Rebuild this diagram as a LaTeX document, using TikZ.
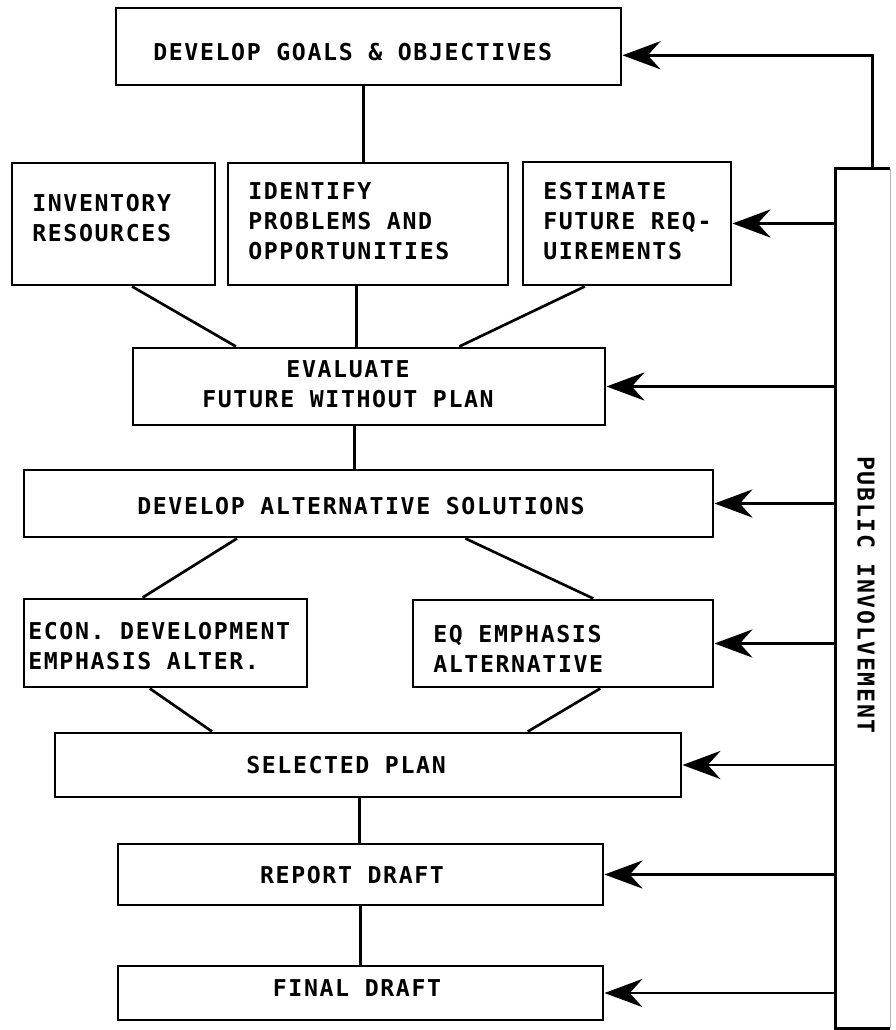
\documentclass[tikz,border=0pt]{standalone}
\usepackage{fontspec}
\newfontfamily\plotfont{DejaVu Sans Mono}[LetterSpace=7]
\usetikzlibrary{arrows.meta,positioning,calc,fit}

\begin{document}
\begin{tikzpicture}[x=0.025cm,y=-0.025cm,
  every node/.style={font=\plotfont\bfseries\fontsize{16.5}{21.3}\selectfont},
  stage/.style={draw,line width=2.1pt,inner sep=0pt},
  lbl/.style={inner sep=0pt,align=left,anchor=north west},
  link/.style={line width=1.9pt},
  feed/.style={line width=1.9pt,-{Stealth[length=27pt,width=20pt,inset=9pt]}}
]
\fill[white] (0,0) rectangle (895,1030);
\useasboundingbox (0,0) rectangle (895,1030);

% planning stages
\node[stage,fit={(116,8) (621,85)}] (goals) {};
\node[stage,fit={(12,163) (215,285)}] (inventory) {};
\node[stage,fit={(228,163) (508,285)}] (identify) {};
\node[stage,fit={(523,162) (731,285)}] (estimate) {};
\node[stage,fit={(133,348) (605,425)}] (evaluate) {};
\node[stage,fit={(24,470) (713,537)}] (alternatives) {};
\node[stage,fit={(24,599) (307,687)}] (econ) {};
\node[stage,fit={(413,600) (713,687)}] (eq) {};
\node[stage,fit={(55,733) (681,797)}] (selected) {};
\node[stage,fit={(118,844) (603,905)}] (report) {};
\node[stage,fit={(118,966) (603,1020)}] (final) {};
\node[inner sep=0pt,fit={(836,169) (890,1028)}] (public) {};

% texts
\node[lbl] (goalstext) at (153,43) {DEVELOP GOALS \& OBJECTIVES};
\node[lbl] (inventorytext) at (32,194) {INVENTORY\\RESOURCES};
\node[lbl] (identifytext) at (248,182) {IDENTIFY\\PROBLEMS AND\\OPPORTUNITIES};
\node[lbl] (estimatetext) at (543,182) {ESTIMATE\\FUTURE REQ-\\UIREMENTS};
\node[lbl,anchor=north,align=center] (evaluatetext) at (348,360)
  {EVALUATE\\FUTURE WITHOUT PLAN};
\node[lbl] (alternativestext) at (137,497) {DEVELOP ALTERNATIVE SOLUTIONS};
\node[lbl] (econtext) at (28,622) {ECON. DEVELOPMENT\\EMPHASIS ALTER.};
\node[lbl] (eqtext) at (433,625) {EQ EMPHASIS\\ALTERNATIVE};
\node[lbl,anchor=north] (selectedtext) at (346,756) {SELECTED PLAN};
\node[lbl,anchor=north] (reporttext) at (352,866) {REPORT DRAFT};
\node[lbl,anchor=north] (finaltext) at (357,979) {FINAL DRAFT};
\node[inner sep=0pt,rotate=-90] (publictext) at (866,595) {PUBLIC INVOLVEMENT};

% links between stages
\draw[link] ($(goals.south west)!0.49!(goals.south east)$) coordinate (gs)
  -- (gs |- identify.north);
\draw[link] ($(inventory.south west)!0.59!(inventory.south east)$)
  -- ($(evaluate.north west)!0.22!(evaluate.north east)$);
\draw[link] ($(identify.south west)!0.46!(identify.south east)$) coordinate (is)
  -- (is |- evaluate.north);
\draw[link] ($(estimate.south west)!0.30!(estimate.south east)$)
  -- ($(evaluate.north west)!0.69!(evaluate.north east)$);
\draw[link] ($(evaluate.south west)!0.47!(evaluate.south east)$) coordinate (es)
  -- (es |- alternatives.north);
\draw[link] ($(alternatives.south west)!0.31!(alternatives.south east)$)
  -- ($(econ.north west)!0.42!(econ.north east)$);
\draw[link] ($(alternatives.south west)!0.64!(alternatives.south east)$)
  -- ($(eq.north west)!0.6!(eq.north east)$);
\draw[link] ($(econ.south west)!0.445!(econ.south east)$)
  -- ($(selected.north west)!0.252!(selected.north east)$);
\draw[link] ($(eq.south west)!0.623!(eq.south east)$)
  -- ($(selected.north west)!0.754!(selected.north east)$);
\draw[link] ($(selected.south west)!0.487!(selected.south east)$) coordinate (ss)
  -- (ss |- report.north);
\draw[link] (report.south) -- (report.south |- final.north);

% public involvement column
\draw[line width=2.1pt] (public.north east) -- (public.north west)
  -- (public.south west) -- (public.south east);
\draw[black!30,line width=0.6pt] (public.north east) -- (public.south east);

% feedback arrows
\draw[feed] ($(public.north west)!0.67!(public.north east)$)
  |- ($(goals.north east)!0.61!(goals.south east)$);
\draw[feed] (public.west |- estimate.east) -- (estimate.east);
\draw[feed] (public.west |- evaluate.east) -- (evaluate.east);
\draw[feed] (public.west |- alternatives.east) -- (alternatives.east);
\draw[feed] (public.west |- eq.east) -- (eq.east);
\draw[feed] (public.west |- selected.east) -- (selected.east);
\draw[feed] (public.west |- report.east) -- (report.east);
\draw[feed] (public.west |- final.east) -- (final.east);
\end{tikzpicture}
\end{document}
